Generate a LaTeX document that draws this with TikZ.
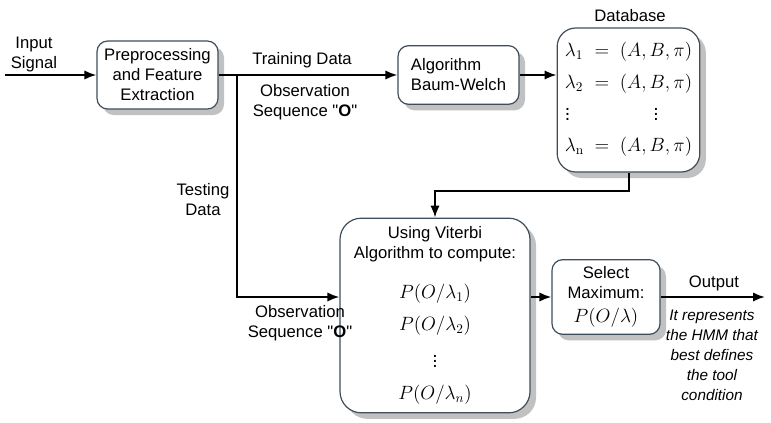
\documentclass[tikz,border=0pt]{standalone}
\usepackage[no-math]{fontspec}
\setmainfont{Liberation Sans}
\newfontfamily\plainfont{Liberation Sans}
\usetikzlibrary{arrows.meta, shadows}
\definecolor{boxline}{HTML}{3E4E5C}
\newcommand{\mth}[1]{{\fontsize{14.5}{15}\selectfont$#1$}}
\newcommand{\dq}{{\plainfont"}}

\begin{document}
\begin{tikzpicture}[x=0.75pt, y=-0.75pt, font=\fontsize{12.5}{15}\selectfont]
\useasboundingbox (0,0) rectangle (771,422);

\begin{scope}[every node/.style={draw=boxline, fill=white, line width=0.9pt, rounded corners=8pt, align=center,
    drop shadow={shadow xshift=4.5pt, shadow yshift=-4.5pt, fill=black!35, opacity=0.7}}]
    \node[minimum width=90.75pt, minimum height=51pt] (pre) at (157.5,75) {Preprocessing\\and Feature\\Extraction};
    \node[minimum width=90.75pt, minimum height=44pt, align=left] (alg) at (458.5,75) {Algorithm\\Baum-Welch};
    \node[minimum width=107pt, minimum height=108pt, rounded corners=14pt] (db) at (628.5,100) {\fontsize{14.5}{15}\selectfont
        $\begin{array}{@{}l@{\;\;}c@{\;\;}l@{}}
        \lambda_1 & = & (A,B,\pi)\\[9pt]
        \lambda_2 & = & (A,B,\pi)\\[4pt]
        \vdots & & \multicolumn{1}{c}{\vdots}\\[8pt]
        \lambda_{\mathrm{n}} & = & (A,B,\pi)
        \end{array}$};
    \node[minimum width=142.5pt, minimum height=146pt, rounded corners=16pt] (vit) at (435,315.5)
        {Using Viterbi\\Algorithm to compute:\\[15pt]\mth{P(O/\lambda_1)}\\[9pt]\mth{P(O/\lambda_2)}\\[8pt]\mth{\vdots}\\[9pt]\mth{P(O/\lambda_n)}};
    \node[minimum width=81pt, minimum height=56pt] (sel) at (606,297) {Select\\Maximum:\\[3pt]\mth{P(O/\lambda)}};
\end{scope}

\begin{scope}[every node/.style={align=center}]
    \node (insig) at (34,54) {Input\\Signal};
    \node (train) at (302,60) {Training Data};
    \node (obs1) at (305,102) {Observation\\Sequence \dq\textbf{O}\dq};
    \node (test) at (203,200) {Testing\\Data};
    \node (obs2) at (300,323) {Observation\\Sequence \dq\textbf{O}\dq};
    \node (dbname) at (630,16) {Database};
    \node (outname) at (714,283) {Output};
    \node[font=\fontsize{11.5}{15}\selectfont\itshape] (outtxt) at (712,355) {It represents\\the HMM that\\best defines\\the tool\\condition};
\end{scope}

\coordinate (insrc) at (5,75);
\coordinate (split) at (237,75);
\coordinate (out) at (765,297);

\begin{scope}[-{Latex[length=9pt,width=7pt]}, line width=1.5pt]
    \draw (insrc) -- (pre);
    \draw (pre) -- (alg);
    \draw (alg.east) -- (alg.east -| db.west);
    \draw (split) |- (vit.west |- sel.west);
    \draw (db.south) -- ++(0,18) -| (vit.north);
    \draw (vit.east |- sel.west) -- (sel.west);
    \draw (sel) -- (out);
\end{scope}

\end{tikzpicture}
\end{document}
